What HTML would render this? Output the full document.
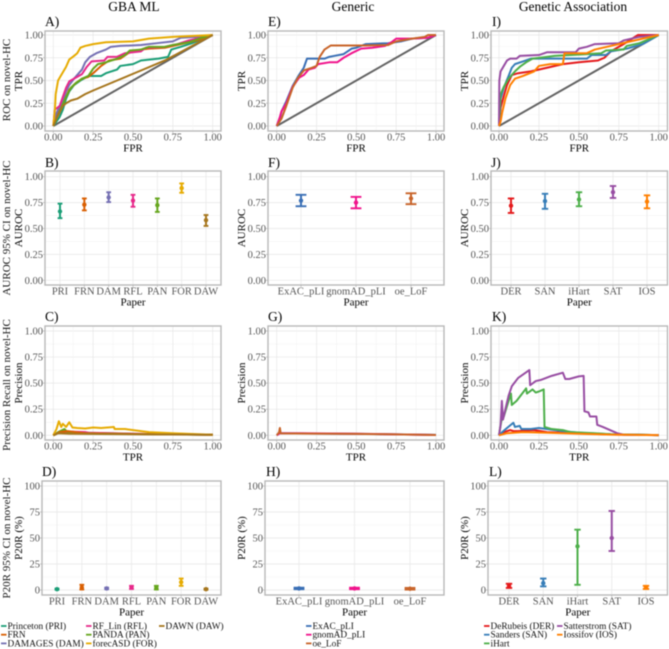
<!DOCTYPE html>
<html lang="en">
<head>
<meta charset="utf-8">
<title>Gene prioritisation benchmark panels</title>
<style>
html,body{margin:0;padding:0;background:#fff;width:669px;height:649px;overflow:hidden}
svg{display:block;filter:blur(.4px)}
text{font-family:"Liberation Serif",serif}
.tick{font-size:10.5px;fill:#555}
.title{font-size:11px;fill:#000}
.outer{font-size:11px;fill:#111}
.head{font-size:13.5px;fill:#000}
.letter{font-size:13.5px;fill:#000}
.legend{font-size:9.3px;fill:#111}
</style>
</head>
<body>
<svg id="figure" width="669" height="649" viewBox="0 0 669 649" xmlns="http://www.w3.org/2000/svg">
<text class="head" x="134" y="11" text-anchor="middle">GBA ML</text>
<text class="head" x="353" y="11" text-anchor="middle">Generic</text>
<text class="head" x="573" y="11" text-anchor="middle">Genetic Association</text>
<text class="outer" transform="translate(10,80) rotate(-90)" text-anchor="middle">ROC on novel-HC</text>
<text class="outer" transform="translate(10,228) rotate(-90)" text-anchor="middle">AUROC 95% CI on novel-HC</text>
<text class="outer" transform="translate(10,385) rotate(-90)" text-anchor="middle">Precision Recall on novel-HC</text>
<text class="outer" transform="translate(10,538) rotate(-90)" text-anchor="middle">P20R 95% CI on novel-HC</text>
</svg>
<script>
// ---------- colours by method ----------
const colPRI = "#1b9e77", colFRN = "#d95f02", colDAM = "#7570b3", colRFL = "#e7298a", colPAN = "#66a61e", colFOR = "#e6ab02", colDAW = "#a6761d";
const colExAC = "#3a6fb5", colGnomAD = "#f0148c", colOE = "#c8642a";
const colDER = "#e41a1c", colSAN = "#377eb8", colIHART = "#4daf4a", colSAT = "#984ea3", colIOS = "#ff7f00";

// ---------- categories and tick labels ----------
const gbaCategories = ["PRI", "FRN", "DAM", "RFL", "PAN", "FOR", "DAW"];
const genericCategories = ["ExAC_pLI", "gnomAD_pLI", "oe_LoF"];
const assocCategories = ["DER", "SAN", "iHart", "SAT", "IOS"];
const unitTicks = [0, 0.25, 0.5, 0.75, 1];
const percentTicks = [0, 25, 50, 75, 100];

// ---------- ROC curves: [FPR, TPR] ----------
const rocPRI = [[0,0],[.02,.05],[.04,.1],[.06,.18],[.08,.3],[.1,.38],[.13,.45],[.17,.5],[.22,.55],[.3,.55],[.33,.58],[.4,.62],[.42,.66],[.5,.68],[.55,.72],[.6,.73],[.66,.74],[.72,.76],[.74,.84],[.8,.87],[.87,.91],[1,1]];
const rocFRN = [[0,0],[.02,.12],[.05,.25],[.08,.32],[.1,.4],[.14,.47],[.18,.52],[.22,.54],[.25,.58],[.3,.66],[.35,.72],[.42,.74],[.47,.8],[.52,.83],[.55,.84],[.6,.85],[.7,.86],[.8,.9],[.9,.94],[1,1]];
const rocDAM = [[0,0],[.01,.1],[.03,.18],[.06,.28],[.08,.38],[.1,.45],[.13,.52],[.16,.58],[.18,.62],[.2,.7],[.23,.76],[.27,.8],[.33,.84],[.36,.87],[.42,.88],[.55,.89],[.65,.91],[.75,.93],[.8,.97],[.9,.98],[1,1]];
const rocRFL = [[0,0],[.01,.18],[.04,.22],[.06,.32],[.08,.42],[.1,.49],[.14,.53],[.18,.57],[.21,.65],[.24,.71],[.32,.72],[.34,.76],[.4,.76],[.45,.8],[.55,.82],[.58,.86],[.7,.87],[.78,.9],[.85,.94],[1,1]];
const rocPAN = [[0,0],[.02,.08],[.05,.2],[.08,.32],[.11,.42],[.14,.47],[.18,.52],[.22,.55],[.25,.63],[.28,.68],[.33,.7],[.4,.74],[.45,.78],[.48,.83],[.55,.84],[.6,.87],[.7,.87],[.75,.89],[.85,.92],[.93,.97],[1,1]];
const rocFOR = [[0,0],[.01,.18],[.015,.35],[.03,.5],[.05,.56],[.08,.65],[.1,.73],[.13,.77],[.15,.8],[.17,.86],[.2,.88],[.25,.9],[.33,.92],[.5,.93],[.6,.96],[.75,.98],[1,1]];
const rocDAW = [[0,0],[.02,.08],[.04,.15],[.06,.22],[.08,.25],[.11,.28],[.15,.3],[.2,.35],[.25,.39],[.4,.5],[.55,.61],[.7,.72],[.85,.86],[1,1]];

const rocExAC = [[0,0],[.02,.08],[.03,.16],[.06,.27],[.1,.44],[.14,.56],[.17,.64],[.19,.74],[.3,.74],[.33,.76],[.36,.77],[.42,.79],[.47,.85],[.5,.86],[.56,.9],[.7,.91],[.78,.93],[.85,.96],[.95,.97],[1,1]];
const rocGnomAD = [[0,0],[.02,.1],[.03,.16],[.06,.25],[.1,.43],[.14,.53],[.17,.56],[.2,.62],[.24,.64],[.26,.68],[.33,.7],[.38,.7],[.42,.75],[.47,.8],[.53,.85],[.6,.86],[.68,.88],[.72,.92],[.75,.96],[.85,.96],[.95,.97],[1,1]];
const rocOE = [[0,0],[.03,.08],[.06,.22],[.1,.42],[.13,.52],[.17,.61],[.22,.64],[.25,.66],[.27,.76],[.3,.84],[.34,.885],[.55,.885],[.7,.89],[.75,.93],[.85,.96],[.93,.98],[.95,1],[1,1]];

const rocDER = [[0,0],[.01,.2],[.03,.33],[.05,.45],[.08,.56],[.12,.58],[.2,.6],[.3,.64],[.4,.68],[.5,.7],[.62,.72],[.66,.75],[.7,.82],[.78,.9],[.87,1],[1,1]];
const rocSAN = [[0,0],[.01,.3],[.03,.42],[.06,.55],[.08,.64],[.1,.68],[.15,.71],[.2,.74],[.35,.74],[.55,.74],[.58,.78],[.67,.78],[.7,.82],[.8,.85],[.9,.9],[1,1]];
const rocIHART = [[0,0],[.01,.35],[.03,.43],[.06,.52],[.1,.6],[.13,.65],[.17,.7],[.21,.74],[.3,.76],[.35,.77],[.45,.78],[.55,.79],[.64,.8],[.67,.83],[.78,.84],[.8,.88],[.88,.91],[1,1]];
const rocSAT = [[0,0],[.002,.5],[.01,.6],[.03,.66],[.05,.72],[.07,.74],[.11,.74],[.13,.77],[.25,.78],[.3,.81],[.48,.81],[.5,.85],[.55,.87],[.6,.9],[.75,.91],[.78,.94],[.88,.98],[1,1]];
const rocIOS = [[0,0],[.01,.05],[.02,.15],[.04,.3],[.07,.45],[.1,.52],[.15,.55],[.22,.6],[.25,.66],[.32,.68],[.4,.68],[.41,.8],[.55,.8],[.6,.84],[.7,.88],[.8,.92],[.9,.96],[1,1]];

// ---------- precision-recall curves: [TPR, precision] ----------
const prPRI = [[0,0],[.03,.02],[.08,.03],[.2,.02],[.5,.012],[1,.005]];
const prFRN = [[0,0],[.04,.03],[.09,.04],[.2,.02],[.5,.012],[1,.005]];
const prDAM = [[0,0],[.03,.025],[.1,.03],[.2,.025],[.5,.014],[1,.005]];
const prRFL = [[0,0],[.05,.04],[.1,.035],[.2,.03],[.22,.025],[.5,.015],[1,.005]];
const prPAN = [[0,0],[.03,.03],[.07,.06],[.09,.03],[.2,.02],[.4,.015],[.7,.01],[1,.005]];
const prFOR = [[0,0],[.02,.06],[.035,.135],[.05,.08],[.06,.11],[.08,.08],[.1,.125],[.12,.075],[.15,.07],[.2,.065],[.25,.075],[.3,.07],[.38,.08],[.385,.06],[.45,.06],[.55,.04],[.6,.03],[.75,.02],[1,.005]];
const prDAW = [[0,0],[.03,.02],[.1,.015],[.3,.012],[.6,.009],[1,.005]];

const prExAC = [[0,0],[.02,.02],[.1,.018],[.3,.016],[.6,.012],[1,.004]];
const prGnomAD = [[0,0],[.02,.02],[.15,.02],[.5,.015],[.8,.008],[1,.003]];
const prOE = [[0,0],[.015,.03],[.02,.07],[.025,.018],[.2,.016],[.5,.014],[.8,.008],[1,.003]];

const prDER = [[0,0],[.03,.03],[.07,.05],[.09,.04],[.12,.04],[.22,.05],[.3,.03],[.5,.02],[.7,.008],[1,.002]];
const prSAN = [[0,0],[.02,.03],[.05,.07],[.09,.12],[.1,.08],[.13,.09],[.14,.06],[.2,.06],[.25,.07],[.3,.06],[.4,.04],[.5,.025],[.7,.01],[1,.002]];
const prIHART = [[0,0],[.015,.14],[.03,.18],[.05,.28],[.075,.4],[.08,.29],[.11,.33],[.17,.45],[.175,.4],[.21,.44],[.23,.41],[.25,.42],[.28,.44],[.285,.08],[.33,.06],[.4,.05],[.45,.03],[.6,.02],[.7,.01],[1,.002]];
const prSAT = [[0,0],[.01,.1],[.018,.33],[.025,.15],[.04,.25],[.06,.38],[.08,.47],[.095,.5],[.12,.55],[.19,.625],[.195,.48],[.23,.52],[.26,.53],[.33,.57],[.4,.6],[.415,.54],[.44,.54],[.5,.565],[.53,.57],[.535,.23],[.56,.22],[.57,.18],[.61,.18],[.615,.1],[.65,.08],[.74,.02],[.78,.005],[1,.002]];
const prIOS = [[0,0],[.05,.02],[.15,.03],[.3,.025],[.5,.015],[.7,.006],[1,.002]];

// ---------- confidence intervals, in category order ----------
const aurocGbaMean = [.665, .73, .80, .77, .725, .89, .58];
const aurocGbaLow = [.60, .675, .755, .71, .66, .845, .525];
const aurocGbaHigh = [.74, .79, .85, .825, .79, .935, .63];
const aurocGenericMean = [.77, .75, .79];
const aurocGenericLow = [.715, .695, .735];
const aurocGenericHigh = [.825, .805, .84];
const aurocAssocMean = [.72, .765, .78, .85, .76];
const aurocAssocLow = [.65, .69, .715, .795, .695];
const aurocAssocHigh = [.79, .835, .85, .91, .82];
const p20rGbaMean = [.8, 2.5, 1.5, 2.5, 2, 7.5, .8];
const p20rGbaLow = [.3, .5, .8, 1, .5, 4, .3];
const p20rGbaHigh = [1.3, 5, 2.2, 4, 4, 11, 1.3];
const p20rGenericMean = [1.5, 1.5, 1.2];
const p20rGenericLow = [.8, .8, .4];
const p20rGenericHigh = [2.2, 2.2, 2];
const p20rAssocMean = [4, 6.5, 42, 50, 2.5];
const p20rAssocLow = [2, 3.5, 5, 37.5, 1];
const p20rAssocHigh = [6, 11, 58, 76, 4];

// ---------- legend labels ----------
const gbaLegendLabels = ["Princeton (PRI)", "FRN", "DAMAGES (DAM)", "RF_Lin (RFL)", "PANDA (PAN)", "forecASD (FOR)", "DAWN (DAW)"];
const genericLegendLabels = ["ExAC_pLI", "gnomAD_pLI", "oe_LoF"];
const assocLegendLabels = ["DeRubeis (DER)", "Sanders (SAN)", "iHart", "Satterstrom (SAT)", "Iossifov (IOS)"];

const gbaColors = [colPRI, colFRN, colDAM, colRFL, colPAN, colFOR, colDAW];
const genericColors = [colExAC, colGnomAD, colOE];
const assocColors = [colDER, colSAN, colIHART, colSAT, colIOS];

const svg = document.getElementById("figure");
const NS = "http://www.w3.org/2000/svg";

function shape(parent, tag, attrs, name, text) {
  const el = document.createElementNS(NS, tag);
  for (const k in attrs) el.setAttribute(k, attrs[k]);
  
  
  if (text !== undefined) el.textContent = text;
  parent.appendChild(el);
  return el;
}

function linearScale(d0, d1, r0, r1) {
  return v => r0 + (v - d0) / (d1 - d0) * (r1 - r0);
}

function drawFrame(cfg) {
  const g = shape(svg, "g", {}, "panel-" + cfg.id);
  const sx = cfg.sx, sy = cfg.sy;
  shape(g, "text", {class:"letter", x:cfg.letterX, y:cfg.top - cfg.letterGap}, "panel-letter-" + cfg.id, cfg.letter);
  // y grid
  cfg.yTicks.forEach((t, i) => {
    if (i < cfg.yTicks.length - 1) {
      const m = sy((t + cfg.yTicks[i + 1]) / 2);
      shape(g, "line", {x1:cfg.left, x2:cfg.right, y1:m, y2:m, stroke:"#f3f3f3", "stroke-width":.6}, "y-minor-gridline");
    }
    shape(g, "line", {x1:cfg.left, x2:cfg.right, y1:sy(t), y2:sy(t), stroke:"#e6e6e6", "stroke-width":.7}, "y-major-gridline");
    shape(g, "line", {x1:cfg.left - 2, x2:cfg.left, y1:sy(t), y2:sy(t), stroke:"#aaa", "stroke-width":.7}, "y-tick-mark");
    shape(g, "text", {class:"tick", x:cfg.left - 2, y:sy(t) + 3.5, "text-anchor":"end"}, "y-tick-label", cfg.yFormat(t));
  });
  // x grid
  if (cfg.xCategories) {
    cfg.xCategories.forEach((c, i) => {
      const x = sx(i);
      shape(g, "line", {x1:x, x2:x, y1:cfg.top, y2:cfg.bottom, stroke:"#e6e6e6", "stroke-width":.7}, "x-major-gridline");
      shape(g, "line", {x1:x, x2:x, y1:cfg.bottom, y2:cfg.bottom + 2, stroke:"#aaa", "stroke-width":.7}, "x-tick-mark");
      shape(g, "text", {class:"tick", x:x, y:cfg.bottom + 9.5, "text-anchor":"middle"}, "x-tick-label", c);
    });
  } else {
    unitTicks.forEach((t, i) => {
      if (i < unitTicks.length - 1) {
        const m = sx((t + unitTicks[i + 1]) / 2);
        shape(g, "line", {x1:m, x2:m, y1:cfg.top, y2:cfg.bottom, stroke:"#f3f3f3", "stroke-width":.6}, "x-minor-gridline");
      }
      shape(g, "line", {x1:sx(t), x2:sx(t), y1:cfg.top, y2:cfg.bottom, stroke:"#e6e6e6", "stroke-width":.7}, "x-major-gridline");
      shape(g, "line", {x1:sx(t), x2:sx(t), y1:cfg.bottom, y2:cfg.bottom + 2, stroke:"#aaa", "stroke-width":.7}, "x-tick-mark");
      shape(g, "text", {class:"tick", x:sx(t), y:cfg.bottom + 9.5, "text-anchor":"middle"}, "x-tick-label", t.toFixed(2));
    });
  }
  shape(g, "text", {class:"title", x:(cfg.left + cfg.right) / 2, y:cfg.bottom + 20.5, "text-anchor":"middle"}, "x-axis-title-" + cfg.id, cfg.xTitle);
  shape(g, "text", {class:"title", transform:"translate(" + cfg.yTitleX + "," + ((cfg.top + cfg.bottom) / 2) + ") rotate(-90)", "text-anchor":"middle"}, "y-axis-title-" + cfg.id, cfg.yTitle);
  return g;
}

function drawBorder(g, cfg) {
  shape(g, "rect", {x:cfg.left, y:cfg.top, width:cfg.right - cfg.left, height:cfg.bottom - cfg.top, fill:"none", stroke:"#b8b8b8", "stroke-width":1.4}, "panel-border");
}

function drawCurves(cfg, curves, colors, names, diagonal) {
  const g = drawFrame(cfg);
  if (diagonal) {
    shape(g, "line", {x1:cfg.sx(0), y1:cfg.sy(0), x2:cfg.sx(1), y2:cfg.sy(1), stroke:"#636363", "stroke-width":2}, "chance-diagonal");
  }
  curves.forEach((pts, i) => {
    const d = pts.map(p => cfg.sx(p[0]).toFixed(2) + "," + cfg.sy(p[1]).toFixed(2)).join(" ");
    shape(g, "polyline", {points:d, fill:"none", stroke:colors[i], "stroke-width":2, "stroke-linejoin":"round"}, "curve-" + names[i]);
  });
  drawBorder(g, cfg);
}

function drawIntervals(cfg, mean, low, high, colors, capHalf) {
  const g = drawFrame(cfg);
  mean.forEach((m, i) => {
    const x = cfg.sx(i), c = colors[i], n = cfg.xCategories[i];
    shape(g, "line", {x1:x, x2:x, y1:cfg.sy(low[i]), y2:cfg.sy(high[i]), stroke:c, "stroke-width":2}, "ci-bar-" + n);
    shape(g, "line", {x1:x - capHalf, x2:x + capHalf, y1:cfg.sy(low[i]), y2:cfg.sy(low[i]), stroke:c, "stroke-width":1.9}, "ci-low-cap-" + n);
    shape(g, "line", {x1:x - capHalf, x2:x + capHalf, y1:cfg.sy(high[i]), y2:cfg.sy(high[i]), stroke:c, "stroke-width":1.9}, "ci-high-cap-" + n);
    shape(g, "circle", {cx:x, cy:cfg.sy(m), r:2.2, fill:c}, "ci-point-" + n);
  });
  drawBorder(g, cfg);
}

function fmt2(t) { return t.toFixed(2); }
function fmt0(t) { return String(t); }

// Layout of a panel: frame edges plus where 0 and 1 (or first/last category) land.
function unitPanel(id, letter, letterX, left, right, x0, x1, top, bottom, y0, y1, xTitle, yTitle, yTitleX, letterGap) {
  return {id, letter, letterX, letterGap, left, right, top, bottom, xTitle, yTitle, yTitleX,
    sx: linearScale(0, 1, x0, x1), sy: linearScale(0, 1, y0, y1), yTicks: unitTicks, yFormat: fmt2};
}
function catPanel(id, letter, letterX, left, right, xFirst, xLast, cats, top, bottom, y0, y1, yMax, ticks, format, yTitle, yTitleX, letterGap) {
  return {id, letter, letterX, letterGap, left, right, top, bottom, xTitle:"Paper", yTitle, yTitleX, xCategories:cats,
    sx: linearScale(0, cats.length - 1, xFirst, xLast), sy: linearScale(0, yMax, y0, y1), yTicks: ticks, yFormat: format};
}

// Row 1: ROC
drawCurves(unitPanel("a", "A)", 45, 45, 221, 53.3, 212.7, 31, 131, 126, 35, "FPR", "TPR", 22, 5), [rocPRI, rocFRN, rocDAM, rocRFL, rocPAN, rocFOR, rocDAW], gbaColors, gbaCategories, true);
drawCurves(unitPanel("e", "E)", 268, 268, 444, 276.7, 436, 31, 131, 126, 35, "FPR", "TPR", 245, 5), [rocExAC, rocGnomAD, rocOE], genericColors, genericCategories, true);
drawCurves(unitPanel("i", "I)", 492, 491, 667.5, 499, 658.7, 31, 131, 126, 35, "FPR", "TPR", 468, 5), [rocDER, rocSAN, rocIHART, rocSAT, rocIOS], assocColors, assocCategories, true);

// Row 2: AUROC CI
drawIntervals(catPanel("b", "B)", 45, 45, 221, 60, 206, gbaCategories, 171, 285, 280.3, 176.7, 1, unitTicks, fmt2, "AUROC", 22, 4), aurocGbaMean, aurocGbaLow, aurocGbaHigh, gbaColors, 2.4);
drawIntervals(catPanel("f", "F)", 268, 268, 444, 301, 411, genericCategories, 171, 285, 280.3, 176.7, 1, unitTicks, fmt2, "AUROC", 245, 4), aurocGenericMean, aurocGenericLow, aurocGenericHigh, genericColors, 5.4);
drawIntervals(catPanel("j", "J)", 491, 491, 667.5, 511, 647, assocCategories, 171, 285, 280.3, 176.7, 1, unitTicks, fmt2, "AUROC", 468, 4), aurocAssocMean, aurocAssocLow, aurocAssocHigh, assocColors, 3.2);

// Row 3: precision-recall
drawCurves(unitPanel("c", "C)", 45, 45, 221, 53.3, 212.7, 326, 440, 435.3, 331, "TPR", "Precision", 22, 5), [prPRI, prDAM, prRFL, prPAN, prFRN, prFOR, prDAW], [colPRI, colDAM, colRFL, colPAN, colFRN, colFOR, colDAW], ["PRI", "DAM", "RFL", "PAN", "FRN", "FOR", "DAW"], false);
drawCurves(unitPanel("g", "G)", 268, 268, 444, 276.7, 436, 326, 440, 435.3, 331, "TPR", "Precision", 245, 5), [prExAC, prGnomAD, prOE], genericColors, genericCategories, false);
drawCurves(unitPanel("k", "K)", 492, 491, 667.5, 499, 658.7, 326, 440, 435.3, 331, "TPR", "Precision", 468, 5), [prDER, prSAN, prIHART, prSAT, prIOS], assocColors, assocCategories, false);

// Row 4: P20R CI
drawIntervals(catPanel("d", "D)", 42, 42, 221, 57, 206, gbaCategories, 481, 595, 590, 486, 100, percentTicks, fmt0, "P20R (%)", 22, 5), p20rGbaMean, p20rGbaLow, p20rGbaHigh, gbaColors, 2.4);
drawIntervals(catPanel("h", "H)", 266, 265, 444, 299, 410, genericCategories, 481, 595, 590, 486, 100, percentTicks, fmt0, "P20R (%)", 245, 5), p20rGenericMean, p20rGenericLow, p20rGenericHigh, genericColors, 5.4);
drawIntervals(catPanel("l", "L)", 489, 488, 667.5, 509, 646, assocCategories, 481, 595, 590, 486, 100, percentTicks, fmt0, "P20R (%)", 468, 5), p20rAssocMean, p20rAssocLow, p20rAssocHigh, assocColors, 3.2);

// Legends: entries fill columns of three rows.
function drawLegend(id, labels, colors, columnX) {
  const g = shape(svg, "g", {}, "legend-" + id);
  labels.forEach((label, i) => {
    const col = Math.floor(i / 3), row = i % 3;
    const x = columnX[col], y = 629 + row * 8.7;
    shape(g, "line", {x1:x, x2:x + 5.5, y1:y - 3, y2:y - 3, stroke:colors[i], "stroke-width":1.8}, "legend-key-" + label);
    shape(g, "text", {class:"legend", x:x + 6.5, y:y}, "legend-entry-" + label, label);
  });
}
drawLegend("gba", gbaLegendLabels, gbaColors, [1, 86, 159]);
drawLegend("generic", genericLegendLabels, genericColors, [306]);
drawLegend("assoc", assocLegendLabels, assocColors, [484, 557]);
</script>
</body>
</html>
